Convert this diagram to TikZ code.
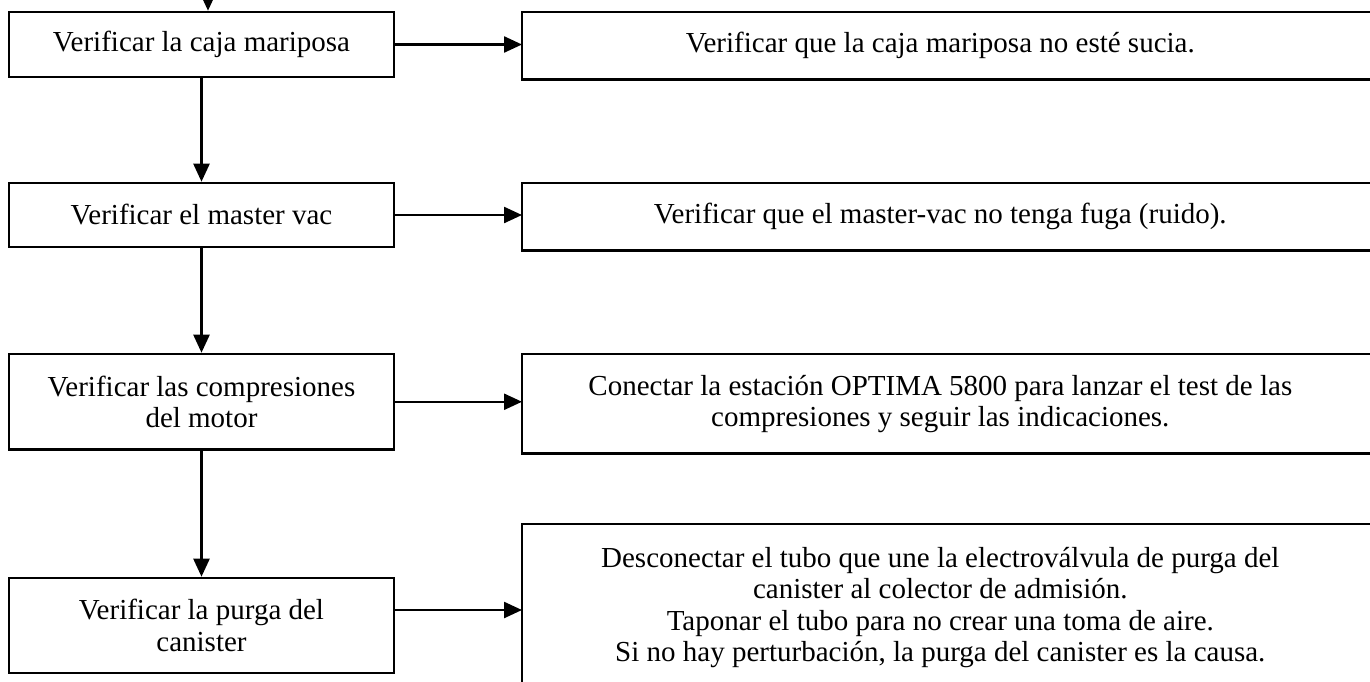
\documentclass[tikz,border=0pt]{standalone}
\usepackage{fontspec}
\setmainfont{Liberation Serif}
\usetikzlibrary{arrows.meta}
\begin{document}
\begin{tikzpicture}[x=1pt,y=-1pt,
  lbox/.style={draw, line width=2.6pt, minimum width=385pt, inner sep=0pt, align=center,
    font=\fontsize{29}{31.5}\selectfont},
  rtext/.style={line width=2.6pt, minimum width=834pt, inner sep=0pt, align=center, anchor=north west,
    font=\fontsize{29}{31.5}\selectfont},
  frame/.style={line width=2.6pt},
  arr/.style={line width=2.4pt, -{Triangle[length=18pt,width=16pt]}}]
\useasboundingbox (0,0) rectangle (1370,681);
\clip (0,0) rectangle (1370,681);

% left column
\node[lbox, minimum height=65pt] (l1) at (201.5,44.5) {Verificar la caja mariposa};
\node[lbox, minimum height=64pt] (l2) at (201.5,215) {Verificar el master vac};
\node[lbox, minimum height=95.5pt] (l3) at (201.5,401.75) {Verificar las compresiones\\del motor};
\node[lbox, minimum height=95pt] (l4) at (201.5,625.5) {Verificar la purga del\\canister};

% right column
\node[rtext, minimum height=65pt] (r1) at (522,12) {Verificar que la caja mariposa no esté sucia.};
\node[rtext, minimum height=65pt] (r2) at (522,183) {Verificar que el master-vac no tenga fuga (ruido).};
\node[rtext, minimum height=97pt] (r3) at (522,354) {Conectar la estación OPTIMA 5800 para lanzar el test de las\\compresiones y seguir las indicaciones.};
\node[rtext, minimum height=164pt] (r4) at (522,524) {Desconectar el tubo que une la electroválvula de purga del\\canister al colector de admisión.\\Taponar el tubo para no crear una toma de aire.\\Si no hay perturbación, la purga del canister es la causa.};

\foreach \n in {r1,r2,r3,r4}
  \draw[frame] ([xshift=40pt]\n.north east) -- (\n.north west) -- (\n.south west) -- ([xshift=40pt]\n.south east);

% connectors
\coordinate (in) at (208,-10);
\draw[arr] (in) -- (in |- l1.north);
\draw[arr] (l1) -- (l2);
\draw[arr] (l2) -- (l3);
\draw[arr] (l3) -- (l4);
\draw[arr] (l1.east) -- (l1.east -| r1.west);
\draw[arr] (l2.east) -- (l2.east -| r2.west);
\draw[arr] (l3.east) -- (l3.east -| r3.west);
\coordinate (a4) at (0,610);
\draw[arr] (l4.east |- a4) -- (r4.west |- a4);
\end{tikzpicture}
\end{document}
